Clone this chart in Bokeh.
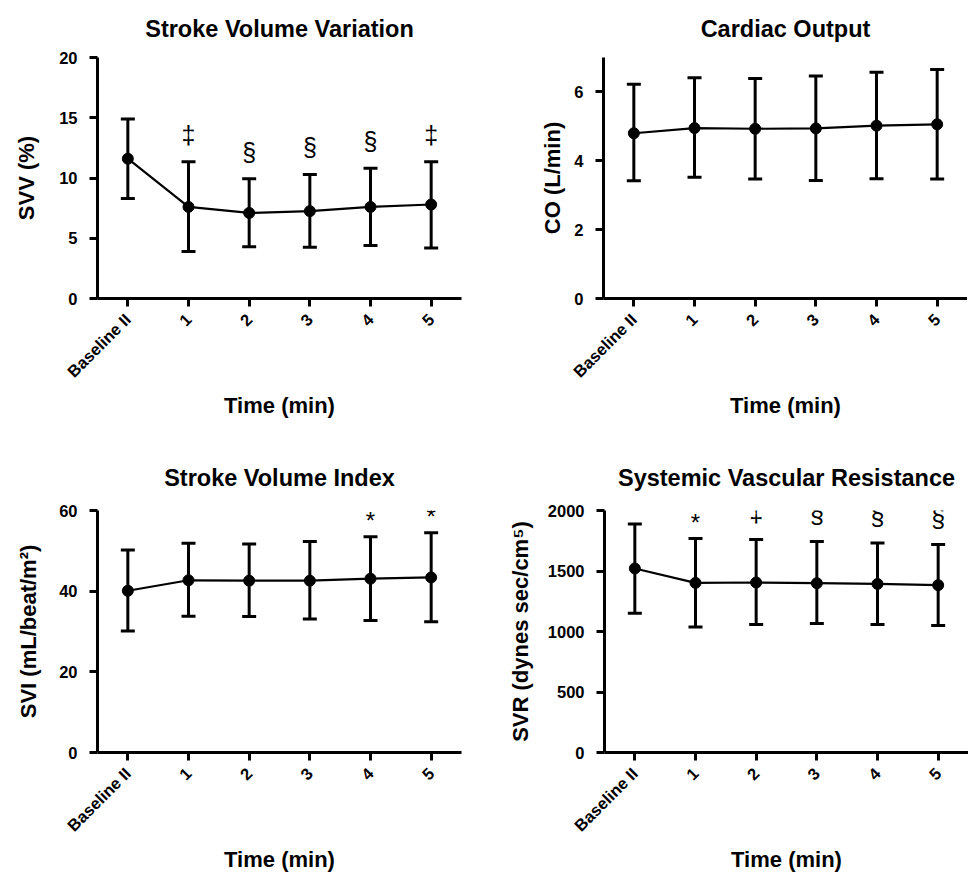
import math
from bokeh.plotting import figure
from bokeh.models import (Range1d, FactorRange, FixedTicker, Whisker, TeeHead,
                          ColumnDataSource)
from bokeh.layouts import column, row
from bokeh.embed import file_html
from bokeh.resources import INLINE
from bokeh.core.properties import value

time_labels = ["Baseline II", "1", "2", "3", "4", "5"]

svv_mean = [11.6, 7.6, 7.1, 7.25, 7.6, 7.8]
svv_upper = [14.9, 11.35, 9.93, 10.3, 10.8, 11.35]
svv_lower = [8.3, 3.9, 4.3, 4.25, 4.4, 4.2]
svv_marks = ["", "‡", "§", "§", "§", "‡"]
svv_ticks = [0, 5, 10, 15, 20]

co_mean = [4.80, 4.95, 4.93, 4.94, 5.02, 5.06]
co_upper = [6.22, 6.41, 6.39, 6.46, 6.57, 6.65]
co_lower = [3.42, 3.52, 3.47, 3.43, 3.48, 3.47]
co_marks = ["", "", "", "", "", ""]
co_ticks = [0, 2, 4, 6]

svi_mean = [40.1, 42.7, 42.6, 42.6, 43.1, 43.4]
svi_upper = [50.2, 51.9, 51.7, 52.3, 53.5, 54.5]
svi_lower = [30.1, 33.8, 33.7, 33.1, 32.7, 32.4]
svi_marks = ["", "", "", "", "*", "*"]
svi_ticks = [0, 20, 40, 60]

svr_mean = [1521, 1402, 1405, 1399, 1393, 1383]
svr_upper = [1889, 1769, 1760, 1744, 1732, 1719]
svr_lower = [1151, 1038, 1058, 1066, 1058, 1050]
svr_marks = ["", "*", "‡", "§", "§", "§"]
svr_ticks = [0, 500, 1000, 1500, 2000]

FONT = "Liberation Sans"
FRAME_W = 364
MARK_OFFSET = {"*": 16, "‡": 27, "§": 27}
MARK_SIZE = {"*": "24px", "‡": "25px", "§": "25px"}


def make_panel(title, ylabel, mean, upper, lower, marks, ticks, ymax,
               fh, bl, br, bt, bb, ylab_standoff, title_standoff):
    p = figure(x_range=FactorRange(*time_labels), y_range=Range1d(0, ymax),
               frame_width=FRAME_W, frame_height=fh,
               min_border_left=bl, min_border_right=br,
               min_border_top=bt, min_border_bottom=bb,
               output_backend="svg", toolbar_location=None, title=title)
    p.title.text_font = FONT
    p.title.text_font_size = "23.5px"
    p.title.text_font_style = "bold"
    p.title.text_color = "black"
    p.title.align = "center"
    p.title.vertical_align = "top"
    p.title.standoff = title_standoff
    p.outline_line_color = None
    p.xgrid.visible = False
    p.ygrid.visible = False
    p.background_fill_color = "white"
    p.border_fill_color = "white"

    for ax in (p.xaxis[0], p.yaxis[0]):
        ax.axis_line_width = 3
        ax.axis_line_color = "black"
        ax.major_tick_line_width = 3
        ax.major_tick_out = 8
        ax.major_tick_in = 0
        ax.minor_tick_line_color = None
        ax.major_label_text_font = FONT
        ax.major_label_text_font_size = "16.5px"
        ax.major_label_text_font_style = "bold"
        ax.major_label_text_color = "black"
        ax.axis_label_text_font = FONT
        ax.axis_label_text_font_size = "22px"
        ax.axis_label_text_font_style = "bold"
        ax.axis_label_text_color = "black"
    p.xaxis.axis_label = "Time (min)"
    p.yaxis.axis_label = ylabel
    p.xaxis.major_label_orientation = math.pi / 4
    p.xaxis.major_label_standoff = 10
    p.xaxis.axis_label_standoff = 3
    p.yaxis.major_label_standoff = 12
    p.yaxis.axis_label_standoff = ylab_standoff
    p.yaxis.ticker = FixedTicker(ticks=ticks)

    src = ColumnDataSource(dict(x=time_labels, mean=mean, upper=upper, lower=lower))
    w = Whisker(base="x", upper="upper", lower="lower", source=src,
                line_width=3, line_color="black",
                upper_head=TeeHead(size=14, line_width=3, line_color="black"),
                lower_head=TeeHead(size=14, line_width=3, line_color="black"))
    p.add_layout(w)
    p.line("x", "mean", source=src, line_width=2.2, line_color="black")
    p.scatter("x", "mean", source=src, size=11, fill_color="black", line_color="black")

    for sym, off in MARK_OFFSET.items():
        xs = [time_labels[i] for i, m in enumerate(marks) if m == sym]
        ys = [upper[i] for i, m in enumerate(marks) if m == sym]
        if not xs:
            continue
        p.text(x=xs, y=ys, text=[sym] * len(xs), y_offset=-off,
               text_font=value(FONT), text_font_size=MARK_SIZE[sym],
               text_align="center", text_baseline="middle", text_color="black")
    return p


p1 = make_panel("Stroke Volume Variation", "SVV (%)", svv_mean, svv_upper, svv_lower,
                svv_marks, svv_ticks, 20, 241, 97, 53, 57, 147, 17, 27)
p2 = make_panel("Cardiac Output", "CO (L/min)", co_mean, co_upper, co_lower,
                co_marks, co_ticks, 7, 241, 89, 0, 57, 147, 6, 27)
p3 = make_panel("Stroke Volume Index", "SVI (mL/beat/m²)", svi_mean, svi_upper, svi_lower,
                svi_marks, svi_ticks, 60, 242, 97, 43, 65, 116, 15, 35)
p4 = make_panel("Systemic Vascular Resistance", "SVR (dynes sec/cm⁵)", svr_mean, svr_upper,
                svr_lower, svr_marks, svr_ticks, 2000, 242, 99, 0, 65, 116, 12, 35)

layout = column(row(p1, p2), row(p3, p4))
open("out.html", "w").write(file_html(layout, INLINE))
